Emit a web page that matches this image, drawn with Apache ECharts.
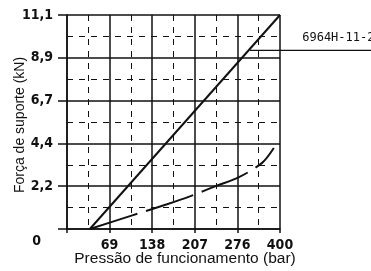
<!DOCTYPE html>
<html>
<head>
<meta charset="utf-8">
<script src="https://cdn.jsdelivr.net/npm/echarts@6/dist/echarts.min.js"></script>
<style>
html, body { margin: 0; padding: 0; background: #fff; }
#chart { width: 371px; height: 271px; }
</style>
</head>
<body>
<div id="chart"></div>
<script>
// eixo x: pressão (bar), eixo y: força (kN)
const xTickLabels = ['', '69', '138', '207', '276', '400']
const yTickLabels = ['0', '2,2', '4,4', '6,7', '8,9', '11,1']
const solidLine = [[37, 0], [345, 11.1]]
const dashedCurve = [[37, 0], [107, 0.72], [162, 1.28], [199, 1.69], [243, 2.25], [277, 2.66], [316, 3.43], [335, 4.2]]
// linha de chamada: início, posição do texto, fim (em bar) e altura (kN)
const leaderXs = [296, 381, 530]
const leaderY = 9.26
const leaderText = '6964H-11-2'

const tickFont = 'Liberation Sans Narrow, DejaVu Sans Condensed, sans-serif'
const ink = '#111'

const myEcharts = echarts.init(document.getElementById('chart'))
myEcharts.setOption({
  animation: false,
  backgroundColor: '#fff',
  grid: { left: 67, right: 91, top: 15, bottom: 42, containLabel: false, outerBoundsMode: 'none' },
  xAxis: {
    type: 'value',
    min: 0,
    max: 345,
    interval: 69,
    name: 'Pressão de funcionamento (bar)',
    nameLocation: 'middle',
    nameGap: 22,
    nameMoveOverlap: false,
    nameTextStyle: { fontFamily: 'Liberation Sans, Arial, sans-serif', fontSize: 15.5, color: ink, padding: [0, 0, 0, 23] },
    axisLine: { show: true, lineStyle: { color: ink, width: 1.5 } },
    axisTick: { show: true, length: 4, lineStyle: { color: ink, width: 1.5 } },
    axisLabel: {
      margin: 9,
      fontFamily: tickFont,
      fontWeight: 'bold',
      fontSize: 14,
      color: ink,
      formatter: (v) => xTickLabels[Math.round(v / 69)]
    },
    splitLine: { show: true, lineStyle: { color: ink, width: 1.5 } },
    minorTick: { show: false, splitNumber: 2 },
    minorSplitLine: { show: true, lineStyle: { color: ink, width: 1, type: [6, 6] } }
  },
  yAxis: {
    type: 'value',
    min: 0,
    max: 11.1,
    interval: 2.22,
    name: 'Força de suporte (kN)',
    nameLocation: 'middle',
    nameGap: 40,
    nameMoveOverlap: false,
    nameTextStyle: { fontFamily: 'Liberation Sans, Arial, sans-serif', fontSize: 14, color: ink, padding: [0, 6, 0, 0] },
    axisLine: { show: true, lineStyle: { color: ink, width: 1.5 } },
    axisTick: { show: true, length: 9, lineStyle: { color: ink, width: 1.5 } },
    axisLabel: {
      margin: 14,
      fontFamily: tickFont,
      fontWeight: 'bold',
      fontSize: 14,
      color: ink,
      formatter: (v) => {
        const i = Math.round(v / 2.22)
        return i === 0 ? '{z|0}' : yTickLabels[i]
      },
      rich: { z: { fontFamily: tickFont, fontWeight: 'bold', fontSize: 14, color: ink, padding: [24, 12, 0, 0] } }
    },
    splitLine: { show: true, lineStyle: { color: ink, width: 1.5 } },
    minorTick: { show: false, splitNumber: 2 },
    minorSplitLine: { show: true, lineStyle: { color: ink, width: 1, type: [6, 6] } }
  },
  series: [
    {
      name: 'solid',
      type: 'line',
      data: solidLine,
      symbol: 'none',
      lineStyle: { color: ink, width: 2 }
    },
    {
      name: 'dashed',
      type: 'line',
      data: dashedCurve,
      symbol: 'none',
      smooth: 0.3,
      lineStyle: { color: ink, width: 2, type: [50, 9] }
    },
    {
      name: 'leader',
      type: 'custom',
      clip: false,
      data: [[leaderXs[0], leaderY]],
      renderItem: (params, api) => {
        const p0 = api.coord([leaderXs[0], leaderY])
        const p1 = api.coord([leaderXs[1], leaderY])
        const p2 = api.coord([leaderXs[2], leaderY])
        return {
          type: 'group',
          children: [
            {
              type: 'line',
              shape: { x1: p0[0], y1: p0[1], x2: p2[0], y2: p2[1] },
              style: { stroke: ink, lineWidth: 1.3 }
            },
            {
              type: 'text',
              x: p1[0],
              y: p1[1] - 7,
              style: {
                text: leaderText,
                align: 'left',
                verticalAlign: 'bottom',
                fontFamily: 'DejaVu Sans Mono, monospace',
                fontSize: 12,
                fill: ink
              }
            }
          ]
        }
      }
    }
  ]
})
</script>
</body>
</html>
